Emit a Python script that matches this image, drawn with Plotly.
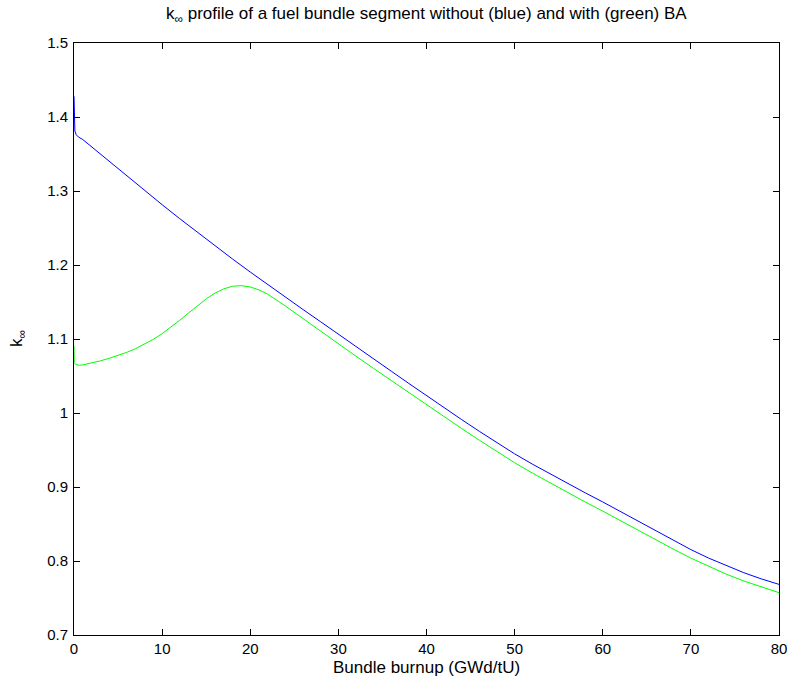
import plotly.graph_objects as go

# Blue: without BA
burnup_blue = [0, 0.03, 0.1, 0.25, 0.5, 1, 2, 4, 6, 8, 10, 12, 14, 16, 18, 20, 22, 24, 26, 28,
               29, 30, 32, 34, 36, 38, 40, 42, 44, 46, 48, 50, 52, 54, 56, 58, 60, 62, 64, 66,
               68, 70, 72, 74, 76, 78, 80]
kinf_blue = [1.428, 1.390, 1.381, 1.376, 1.373, 1.3695, 1.3596, 1.3399, 1.3202, 1.3007, 1.2815,
             1.2626, 1.2440, 1.2258, 1.2080, 1.1905, 1.1733, 1.1564, 1.1397, 1.1232, 1.1150,
             1.1068, 1.0900, 1.0732, 1.0565, 1.0399, 1.0234, 1.0071, 0.9910, 0.9752, 0.9598,
             0.9448, 0.9310, 0.9177, 0.9048, 0.8922, 0.8798, 0.8667, 0.8536, 0.8406, 0.8278,
             0.8154, 0.8040, 0.7936, 0.7842, 0.7758, 0.7684]

# Green: with BA
burnup_green = [0, 0.02, 0.2, 0.6, 1, 2, 3, 4, 5, 6, 7, 8, 9, 10, 11, 12, 13, 14, 15, 16, 17,
                18, 19, 20, 21, 22, 23, 24, 26, 28, 30, 32, 34, 36, 38, 40, 42, 44, 46, 48, 50,
                52, 54, 56, 58, 60, 62, 64, 66, 68, 70, 72, 74, 76, 78, 80]
kinf_green = [1.0905, 1.068, 1.0655, 1.0645, 1.0650, 1.0675, 1.0705, 1.0739, 1.0777, 1.0820,
              1.0870, 1.0928, 1.0995, 1.1072, 1.1159, 1.1253, 1.1351, 1.1449, 1.1542, 1.1620,
              1.1678, 1.1713, 1.1721, 1.1703, 1.1663, 1.1604, 1.1530, 1.1445, 1.1275, 1.1102,
              1.0932, 1.0767, 1.0602, 1.0437, 1.0274, 1.0111, 0.9949, 0.9789, 0.9632, 0.9478,
              0.9328, 0.9189, 0.9055, 0.8925, 0.8798, 0.8674, 0.8544, 0.8415, 0.8287, 0.8161,
              0.8039, 0.7926, 0.7823, 0.7730, 0.7646, 0.7572]

x_ticks = [0, 10, 20, 30, 40, 50, 60, 70, 80]
y_ticks = [0.7, 0.8, 0.9, 1.0, 1.1, 1.2, 1.3, 1.4, 1.5]
y_ticktext = ["0.7", "0.8", "0.9", "1", "1.1", "1.2", "1.3", "1.4", "1.5"]

title_text = "k<sub>∞</sub> profile of a fuel bundle segment without (blue) and with (green) BA"
xlabel = "Bundle burnup (GWd/tU)"
ylabel = "k<sub>∞</sub>"

FONT = "Liberation Sans, Arial, Helvetica, sans-serif"

fig = go.Figure()
fig.add_trace(go.Scatter(x=burnup_blue, y=kinf_blue, mode="lines",
                         line=dict(color="#0000ff", width=1), hoverinfo="skip", showlegend=False))
fig.add_trace(go.Scatter(x=burnup_green, y=kinf_green, mode="lines",
                         line=dict(color="#00ff00", width=1), hoverinfo="skip", showlegend=False))

axis_common = dict(showline=True, linecolor="black", linewidth=1, mirror="ticks",
                   ticks="inside", ticklen=6, tickwidth=1, tickcolor="black",
                   showgrid=False, zeroline=False, automargin=False,
                   tickfont=dict(family=FONT, size=15, color="black"))

fig.update_xaxes(range=[0, 80], tickvals=x_ticks, ticklabelstandoff=0, **axis_common)
fig.update_yaxes(range=[0.7, 1.5], tickvals=y_ticks, ticktext=y_ticktext,
                 ticklabelstandoff=2, **axis_common)

fig.update_layout(
    width=789, height=684,
    margin=dict(l=74, r=10, t=43, b=49),
    plot_bgcolor="white", paper_bgcolor="white",
    font=dict(family=FONT, size=15, color="black"),
    annotations=[
        dict(text=title_text, xref="paper", yref="paper", x=0.5, y=1, yshift=28,
             xanchor="center", yanchor="middle", showarrow=False,
             font=dict(family=FONT, size=17, color="black")),
        dict(text=xlabel, xref="paper", yref="paper", x=0.5, y=0, yshift=-32,
             xanchor="center", yanchor="middle", showarrow=False,
             font=dict(family=FONT, size=17, color="black")),
        dict(text=ylabel, xref="paper", yref="paper", x=0, xshift=-56, y=0.5,
             xanchor="center", yanchor="middle", showarrow=False, textangle=-90,
             font=dict(family=FONT, size=17, color="black")),
    ],
)

fig.write_html("out.html", config={"displayModeBar": False},
               post_script="document.body.style.margin='0';")
